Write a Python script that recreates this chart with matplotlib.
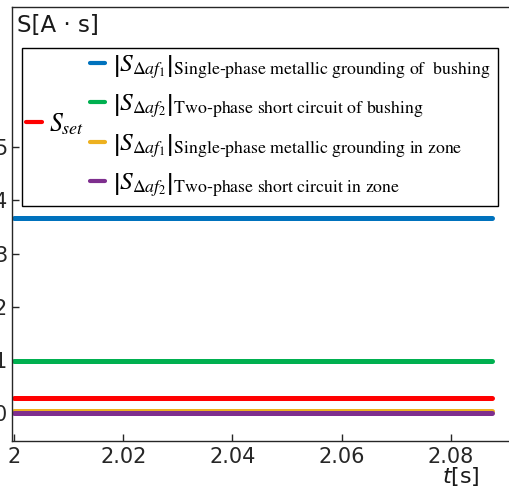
import matplotlib
matplotlib.use("Agg")
import matplotlib.pyplot as plt
from matplotlib.lines import Line2D
from matplotlib.patches import Rectangle

# time span of the simulation window [s]
t = [2.0, 2.0875]

# integral values S [A*s]
s_set = [0.28, 0.28]
s_af1_bushing = [3.67, 3.67]
s_af2_bushing = [0.98, 0.98]
s_af1_zone = [0.045, 0.045]
s_af2_zone = [0.0, 0.0]

labels = [
    r"$\left|S_{\Delta af_1}\right|_{\text{Single-phase metallic grounding of  bushing}}$",
    r"$\left|S_{\Delta af_2}\right|_{\text{Two-phase short circuit of bushing}}$",
    r"$\left|S_{\Delta af_1}\right|_{\text{Single-phase metallic grounding in zone}}$",
    r"$\left|S_{\Delta af_2}\right|_{\text{Two-phase short circuit in zone}}$",
]
set_label = r"$S_{set}$"

colors = ["#0072BD", "#00B050", "#EDB120", "#7E2F8E"]
red = "#FF0000"

W, H = 509, 492
fig = plt.figure(figsize=(W / 100, H / 100), dpi=100)
# axes box in pixels: left 12, right 520 (outside figure), top 7, bottom 441
ax = fig.add_axes([12 / W, 1 - 441 / H, (520 - 12) / W, (441 - 7) / H])

lw = 3.6
ax.plot(t, s_af1_bushing, color=colors[0], lw=lw, solid_capstyle="round")
ax.plot(t, s_af2_bushing, color=colors[1], lw=lw, solid_capstyle="round")
ax.plot(t, s_set, color=red, lw=lw, solid_capstyle="round")
ax.plot(t, s_af1_zone, color=colors[2], lw=lw, solid_capstyle="round")
ax.plot(t, s_af2_zone, color=colors[3], lw=lw, solid_capstyle="round")

ax.set_xlim(1.9996, 2.0927)
ax.set_ylim(-0.52, 7.63)
ax.set_yticks([0, 1, 2, 3, 4, 5])
ax.set_yticklabels(["0", "1", "2", "3", "4", "5"])
ax.set_xticks([2.0, 2.02, 2.04, 2.06, 2.08])
ax.set_xticklabels(["2", "2.02", "2.04", "2.06", "2.08"])

for sp in ax.spines.values():
    sp.set_color("#262626")
    sp.set_linewidth(1.0)
ax.tick_params(direction="in", length=4.8, width=1.0, color="#262626",
               labelsize=15, labelcolor="#262626")
ax.tick_params(axis="y", pad=3.5)
ax.tick_params(axis="x", pad=4.5)

ax.set_xlabel("$t$[s]", fontsize=16, color="#1a1a1a")
ax.xaxis.set_label_coords(0.884, -0.055)
ax.set_ylabel("S[A · s]", fontsize=16.5, rotation=0, ha="left", va="top",
              color="#1a1a1a")
ax.yaxis.set_label_coords(0.010, 0.985)

# legend frame
frame = Rectangle((0.0197, 0.5415), 0.937, 0.364, transform=ax.transAxes,
                  facecolor="white", edgecolor="black", lw=1.0, zorder=5)
ax.add_patch(frame)

handles = [Line2D([], [], color=c, lw=3, solid_capstyle="round") for c in colors]
leg1 = ax.legend(handles, labels, loc="upper left",
                 bbox_to_anchor=(0.154, 0.895), frameon=False,
                 prop={"size": 18.3, "math_fontfamily": "stix"},
                 handlelength=0.6, handletextpad=0.3, labelspacing=0.44,
                 borderaxespad=0, borderpad=0)
leg1.set_zorder(6)
ax.add_artist(leg1)

h_set = [Line2D([], [], color=red, lw=3, solid_capstyle="round")]
leg2 = ax.legend(h_set, [set_label], loc="center left",
                 bbox_to_anchor=(0.028, 0.73), frameon=False,
                 prop={"size": 18.5, "math_fontfamily": "stix"},
                 handlelength=0.6, handletextpad=0.3,
                 borderaxespad=0, borderpad=0)
leg2.set_zorder(6)

fig.savefig("out.png", dpi=100)
